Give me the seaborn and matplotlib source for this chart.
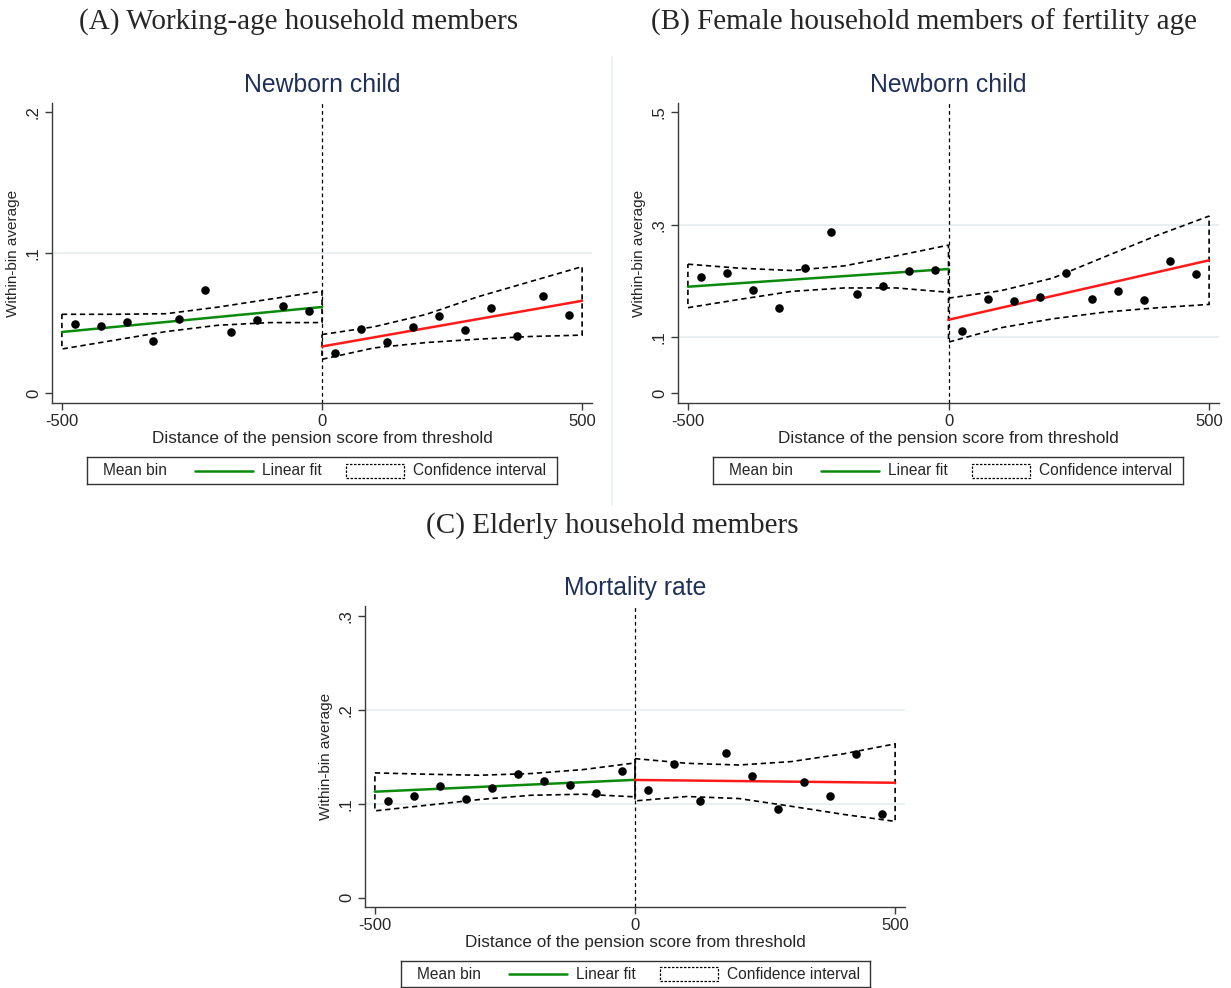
import matplotlib
matplotlib.use("Agg")
import matplotlib.pyplot as plt
from matplotlib.patches import Rectangle
from matplotlib.lines import Line2D
import seaborn as sns
import pandas as pd

# ---------------- data ----------------
bins_left = [-475, -425, -375, -325, -275, -225, -175, -125, -75, -25]
bins_right = [25, 75, 125, 175, 225, 275, 325, 375, 425, 475]
fit_x_left = [-500, 0]
fit_x_right = [0, 500]
ci_x_left = [-500, -400, -300, -200, -100, 0]
ci_x_right = [0, 100, 200, 300, 400, 500]

# Panel A: working-age members, newborn child
a_mean_left = [0.0491, 0.0481, 0.0505, 0.0372, 0.0528, 0.0732, 0.0438, 0.0521, 0.0618, 0.0588]
a_mean_right = [0.0287, 0.0455, 0.0365, 0.0472, 0.0552, 0.0450, 0.0609, 0.0410, 0.0692, 0.0559]
a_fit_left = [0.0436, 0.0614]
a_fit_right = [0.0333, 0.0658]
a_ci_left_hi = [0.0562, 0.0562, 0.0566, 0.0613, 0.0670, 0.0726]
a_ci_left_lo = [0.0315, 0.0377, 0.0439, 0.0484, 0.0503, 0.0503]
a_ci_right_hi = [0.0418, 0.0473, 0.0561, 0.0687, 0.0794, 0.0901]
a_ci_right_lo = [0.0242, 0.0323, 0.0361, 0.0385, 0.0404, 0.0414]

# Panel B: female members of fertility age, newborn child
b_mean_left = [0.2073, 0.2133, 0.1831, 0.1517, 0.2233, 0.2867, 0.1759, 0.1902, 0.2174, 0.2198]
b_mean_right = [0.1110, 0.1682, 0.1638, 0.1709, 0.2147, 0.1682, 0.1828, 0.1665, 0.2361, 0.2128]
b_fit_left = [0.1897, 0.2212]
b_fit_right = [0.1309, 0.2367]
b_ci_left_hi = [0.2298, 0.2226, 0.2185, 0.2268, 0.2446, 0.2637]
b_ci_left_lo = [0.1524, 0.1673, 0.1815, 0.1875, 0.1875, 0.1798]
b_ci_right_hi = [0.1694, 0.1825, 0.2050, 0.2430, 0.2810, 0.3154]
b_ci_right_lo = [0.0911, 0.1166, 0.1326, 0.1445, 0.1522, 0.1582]

# Panel C: elderly members, mortality rate
c_mean_left = [0.1029, 0.1086, 0.1189, 0.1044, 0.1161, 0.1317, 0.1242, 0.1200, 0.1115, 0.1352]
c_mean_right = [0.1147, 0.1423, 0.1029, 0.1541, 0.1299, 0.0948, 0.1228, 0.1086, 0.1530, 0.0887]
c_fit_left = [0.1127, 0.1253]
c_fit_right = [0.1252, 0.1222]
c_ci_left_hi = [0.1327, 0.1313, 0.1302, 0.1320, 0.1362, 0.1433]
c_ci_left_lo = [0.0923, 0.0983, 0.1043, 0.1089, 0.1100, 0.1072]
c_ci_right_hi = [0.1479, 0.1429, 0.1411, 0.1447, 0.1529, 0.1636]
c_ci_right_lo = [0.1029, 0.1076, 0.1054, 0.0972, 0.0886, 0.0811]

x_ticks = [-500, 0, 500]
x_tick_labels = ["-500", "0", "500"]
a_yticks = [0, 0.1, 0.2]
a_ytick_labels = ["0", ".1", ".2"]
b_yticks = [0, 0.1, 0.3, 0.5]
b_ytick_labels = ["0", ".1", ".3", ".5"]
c_yticks = [0, 0.1, 0.2, 0.3]
c_ytick_labels = ["0", ".1", ".2", ".3"]

headers = ["(A) Working-age household members",
           "(B) Female household members of fertility age",
           "(C) Elderly household members"]
subtitles = ["Newborn child", "Newborn child", "Mortality rate"]
x_title = "Distance of the pension score from threshold"
y_title = "Within-bin average"
legend_labels = ["Mean bin", "Linear fit", "Confidence interval"]

# ---------------- style ----------------
sns.set_theme(style="white")
plt.rcParams['font.family'] = ['Liberation Sans', 'DejaVu Sans']

W, H = 1231, 988
fig = plt.figure(figsize=(W / 100, H / 100), dpi=100)
fig.patch.set_facecolor("white")

AXIS_COL = "#3a3a3a"
GRID_COL = "#e6eef0"
TITLE_COL = "#1f2f57"
GREEN = "#0a8a0a"
RED = "#ff1a1a"
DASH = (0, (3.2, 2.2))


def px_axes(l, t, r, b):
    return fig.add_axes([l / W, 1 - b / H, (r - l) / W, (b - t) / H])


def draw_panel(box, ylim, yticks, yticklabels, grid_vals, subtitle,
               mean_l, mean_r, fit_l, fit_r, ci_l_hi, ci_l_lo, ci_r_hi, ci_r_lo):
    ax = px_axes(*box)
    ax.set_xlim(-519, 519)
    ax.set_ylim(*ylim)
    for g in grid_vals:
        ax.axhline(g, color=GRID_COL, lw=1.2, zorder=0)
    # CI bands (outlined polygons)
    ax.fill(ci_x_left + ci_x_left[::-1], ci_l_hi + ci_l_lo[::-1], fill=False,
            edgecolor="black", linestyle=DASH, linewidth=1.2, zorder=2)
    ax.fill(ci_x_right + ci_x_right[::-1], ci_r_hi + ci_r_lo[::-1], fill=False,
            edgecolor="black", linestyle=DASH, linewidth=1.2, zorder=2)
    # cutoff
    ax.axvline(0, color="black", lw=0.9, linestyle=(0, (3, 2.5)), zorder=1)
    # fitted lines
    sns.lineplot(x=fit_x_left, y=fit_l, ax=ax, color=GREEN, lw=1.8, zorder=3)
    sns.lineplot(x=fit_x_right, y=fit_r, ax=ax, color=RED, lw=1.8, zorder=3)
    # bin means
    df = pd.DataFrame({"x": bins_left + bins_right, "y": mean_l + mean_r})
    sns.scatterplot(data=df, x="x", y="y", ax=ax, color="black", s=38,
                    edgecolor="black", linewidth=0, zorder=4)
    # axes styling
    for side in ["top", "right"]:
        ax.spines[side].set_visible(False)
    for side in ["left", "bottom"]:
        ax.spines[side].set_color(AXIS_COL)
        ax.spines[side].set_linewidth(1.0)
    ax.set_xticks(x_ticks)
    ax.set_xticklabels(x_tick_labels, fontsize=12)
    ax.set_yticks(yticks)
    ax.set_yticklabels(yticklabels, fontsize=12, rotation=90, va="center")
    ax.tick_params(axis="both", direction="out", length=5, width=1.0,
                   color=AXIS_COL, left=True, bottom=True, pad=3)
    ax.set_xlabel(x_title, fontsize=12.3, labelpad=1)
    ax.set_ylabel(y_title, fontsize=11, labelpad=4)
    ax.set_title(subtitle, fontsize=17.8, color=TITLE_COL, pad=8)
    ax.grid(False)
    return ax


def draw_legend(l, t, r, b):
    lg = px_axes(l, t, r, b)
    w, h = r - l, b - t
    lg.set_xlim(0, w)
    lg.set_ylim(0, h)
    lg.set_xticks([])
    lg.set_yticks([])
    for s in lg.spines.values():
        s.set_color("#333333")
        s.set_linewidth(1.0)
    fs = 11.2
    lg.text(16, h / 2, legend_labels[0], fontsize=fs, va="center", ha="left")
    lg.add_line(Line2D([108, 166], [h / 2, h / 2], color=GREEN, lw=1.8))
    lg.text(175, h / 2, legend_labels[1], fontsize=fs, va="center", ha="left")
    lg.add_patch(Rectangle((259, h / 2 - 7), 58, 14, fill=False, edgecolor="black",
                           linestyle=(0, (2, 1.2)), linewidth=0.9))
    lg.text(326, h / 2, legend_labels[2], fontsize=fs, va="center", ha="left")
    return lg


draw_panel((52, 103, 592, 403), (-0.0069, 0.2065), a_yticks, a_ytick_labels, [0.1],
           subtitles[0], a_mean_left, a_mean_right, a_fit_left, a_fit_right,
           a_ci_left_hi, a_ci_left_lo, a_ci_right_hi, a_ci_right_lo)
draw_panel((678, 103, 1219, 403), (-0.0172, 0.5166), b_yticks, b_ytick_labels, [0.1, 0.3],
           subtitles[1], b_mean_left, b_mean_right, b_fit_left, b_fit_right,
           b_ci_left_hi, b_ci_left_lo, b_ci_right_hi, b_ci_right_lo)
draw_panel((365, 606, 905, 907), (-0.0100, 0.3103), c_yticks, c_ytick_labels, [0.1, 0.2],
           subtitles[2], c_mean_left, c_mean_right, c_fit_left, c_fit_right,
           c_ci_left_hi, c_ci_left_lo, c_ci_right_hi, c_ci_right_lo)

draw_legend(87, 457, 557, 484)
draw_legend(713, 457, 1183, 484)
draw_legend(401, 961, 870, 987)

# headers
serif = ['Liberation Serif', 'DejaVu Serif']
fig.text(299 / W, 1 - 22 / H, headers[0], fontsize=21, family=serif, ha="center", va="center")
fig.text(924 / W, 1 - 22 / H, headers[1], fontsize=21, family=serif, ha="center", va="center")
fig.text(612 / W, 1 - 526 / H, headers[2], fontsize=21, family=serif, ha="center", va="center")

# faint separator between panels A and B
fig.add_artist(Line2D([612 / W, 612 / W], [1 - 57 / H, 1 - 505 / H], color="#e9eff2", lw=1.2))

fig.savefig("out.png", dpi=100)
